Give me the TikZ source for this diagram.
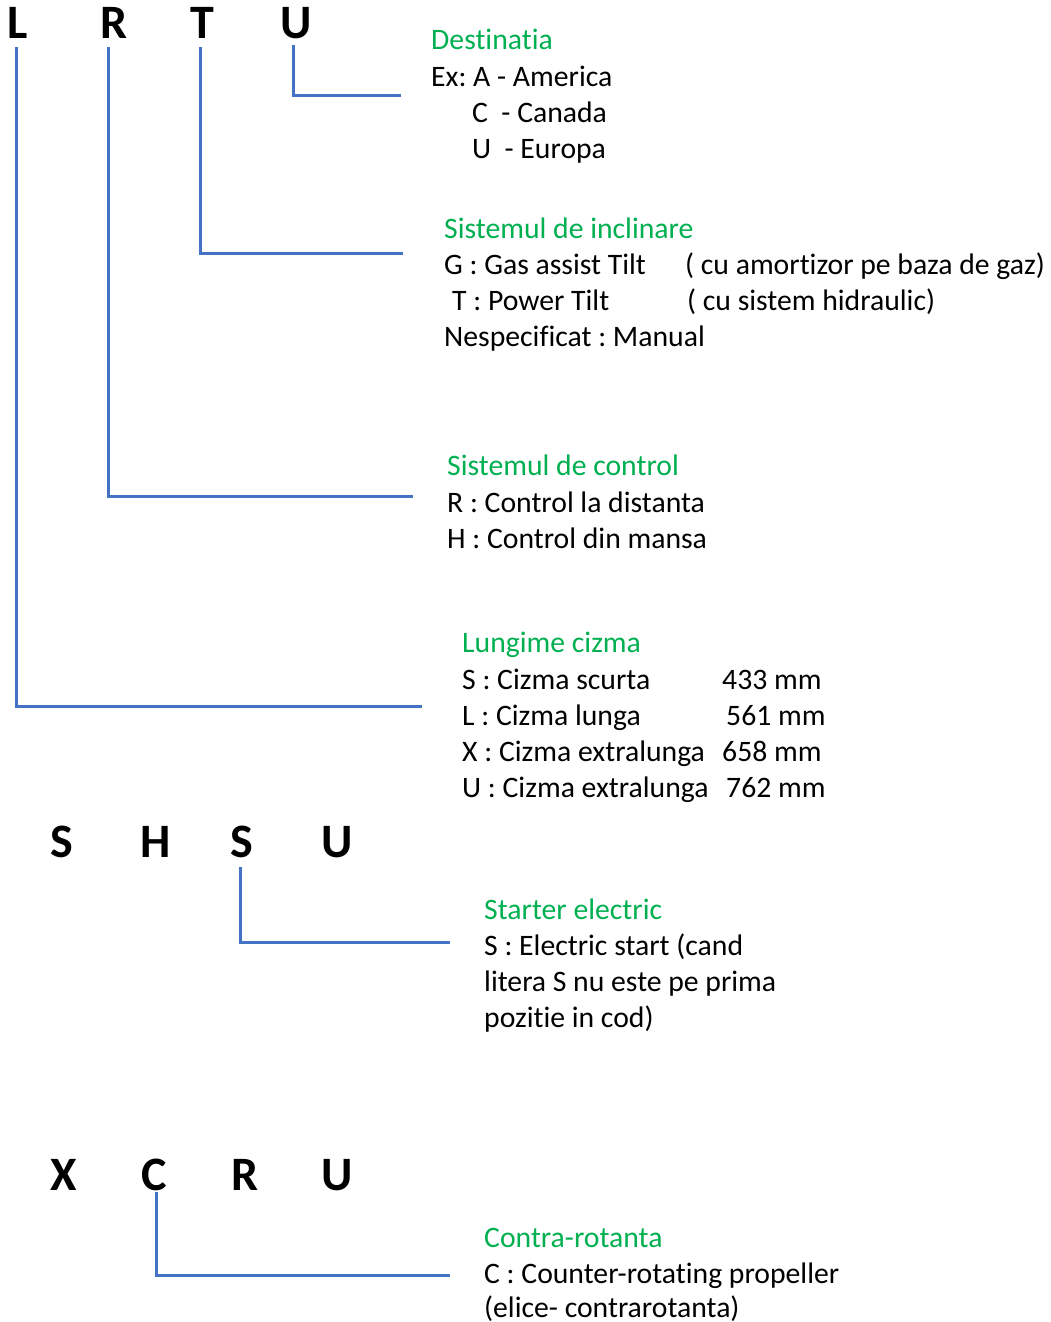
\documentclass[tikz,border=0pt]{standalone}
\usepackage{fontspec}
\setmainfont{Carlito}[Ligatures={NoCommon,NoContextual}]
\frenchspacing
\definecolor{linkblue}{HTML}{4472C4}
\definecolor{titlegreen}{HTML}{00B050}
\tikzset{
  code/.style={font=\fontsize{48}{56}\selectfont\bfseries, anchor=base, inner sep=0pt},
  txt/.style={font=\fontsize{29.7}{36}\selectfont, anchor=base west, inner sep=0pt},
  head/.style={txt, text=titlegreen},
  link/.style={draw=linkblue, line width=3pt},
}
\begin{document}
\begin{tikzpicture}[x=1pt,y=-1pt]
  \useasboundingbox (0,0) rectangle (1051,1322);
  % code letters
  \node[code] (L) at (18,39) {L};
  \node[code] (R) at (114,39) {R};
  \node[code] (T) at (202,39) {T};
  \node[code] (U) at (296,39) {U};
  \node[code] (S1) at (62,857) {S};
  \node[code] (H) at (156,857) {H};
  \node[code] (S2) at (242,857) {S};
  \node[code] (U2) at (337,857) {U};
  \node[code] (X) at (64,1190) {X};
  \node[code] (C) at (154,1190) {C};
  \node[code] (R3) at (245,1190) {R};
  \node[code] (U3) at (337,1190) {U};
  % Destinatia
  \node[head] (dest) at (431,50) {Destinatia};
  \node[txt] (destA) at (431,86) {Ex: A - America};
  \node[txt] (destC) at (472,122) {C\ \ - Canada};
  \node[txt] (destU) at (472,158) {U\ \ - Europa};
  % Sistemul de inclinare
  \node[head] (tilt) at (444,238) {Sistemul de inclinare};
  \node[txt] (tiltG) at (444,274) {G : Gas assist Tilt};
  \node[txt] (tiltGx) at (685,274) {( cu amortizor pe baza de gaz)};
  \node[txt] (tiltT) at (452,310) {T : Power Tilt};
  \node[txt] (tiltTx) at (687,310) {( cu sistem hidraulic)};
  \node[txt] (tiltN) at (444,346) {Nespecificat : Manual};
  % Sistemul de control
  \node[head] (ctrl) at (447,475) {Sistemul de control};
  \node[txt] (ctrlR) at (447,512) {R : Control la distanta};
  \node[txt] (ctrlH) at (447,548) {H : Control din mansa};
  % Lungime cizma
  \node[head] (len) at (462,652) {Lungime cizma};
  \node[txt] (lenS) at (462,689) {S : Cizma scurta};
  \node[txt] (lenSv) at (722,689) {433 mm};
  \node[txt] (lenL) at (462,725) {L : Cizma lunga};
  \node[txt] (lenLv) at (726,725) {561 mm};
  \node[txt] (lenX) at (462,761) {X : Cizma extralunga};
  \node[txt] (lenXv) at (722,761) {658 mm};
  \node[txt] (lenU) at (462,797) {U : Cizma extralunga};
  \node[txt] (lenUv) at (726,797) {762 mm};
  % Starter electric
  \node[head] (start) at (484,919) {Starter electric};
  \node[txt] (start1) at (484,955) {S : Electric start (cand};
  \node[txt] (start2) at (484,991) {litera S nu este pe prima};
  \node[txt] (start3) at (484,1027) {pozitie in cod)};
  % Contra-rotanta
  \node[head] (contra) at (484,1247) {Contra-rotanta};
  \node[txt] (contra1) at (484,1283) {C : Counter-rotating propeller};
  \node[txt] (contra2) at (484,1317) {(elice- contrarotanta)};
  % connectors
  \coordinate (Ltop) at (16,47);   \coordinate (Lend) at (422,706);
  \coordinate (Rtop) at (108,47);  \coordinate (Rend) at (413,496);
  \coordinate (Ttop) at (200,47);  \coordinate (Tend) at (403,253);
  \coordinate (Utop) at (293,45);  \coordinate (Uend) at (401,95);
  \coordinate (Stop) at (240,867); \coordinate (Send) at (450,942);
  \coordinate (Ctop) at (156,1192); \coordinate (Cend) at (450,1275);
  \draw[link] (Ltop) |- (Lend);
  \draw[link] (Rtop) |- (Rend);
  \draw[link] (Ttop) |- (Tend);
  \draw[link] (Utop) |- (Uend);
  \draw[link] (Stop) |- (Send);
  \draw[link] (Ctop) |- (Cend);
\end{tikzpicture}
\end{document}
